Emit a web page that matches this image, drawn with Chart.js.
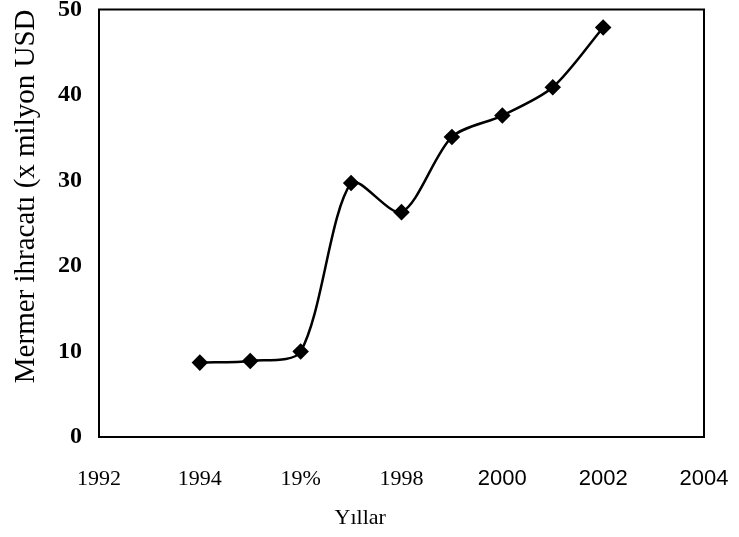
<!DOCTYPE html>
<html>
<head>
<meta charset="utf-8">
<script src="https://cdn.jsdelivr.net/npm/chart.js@4/dist/chart.umd.min.js"></script>
<style>
  html, body { margin: 0; padding: 0; background: #fff; }
  #wrap { width: 739px; height: 537px; }
</style>
</head>
<body>
<div id="wrap"><canvas id="chart" width="739" height="537"></canvas></div>
<script>
// values
const years = [1994, 1995, 1996, 1997, 1998, 1999, 2000, 2001, 2002];
const exports = [8.7, 8.9, 10.0, 29.7, 26.3, 35.1, 37.6, 40.9, 47.9];
const xTicks = [1992, 1994, 1996, 1998, 2000, 2002, 2004];
const xTickLabels = ['1992', '1994', '19%', '1998', '2000', '2002', '2004'];
const yTicks = [0, 10, 20, 30, 40, 50];

const serif = '"Liberation Serif", "Times New Roman", serif';
const sans = '"Liberation Sans", Arial, sans-serif';

// frame round the plot area
const framePlugin = {
  id: 'frame',
  afterDraw(chart) {
    const { ctx, chartArea: a } = chart;
    ctx.save();
    ctx.strokeStyle = '#000';
    ctx.lineWidth = 2;
    ctx.strokeRect(a.left, a.top, a.right - a.left, a.bottom - a.top);
    ctx.restore();
  }
};

new Chart(document.getElementById('chart').getContext('2d'), {
  type: 'line',
  data: {
    datasets: [{
      data: years.map((y, i) => ({ x: y, y: exports[i] })),
      borderColor: '#000',
      backgroundColor: '#000',
      borderWidth: 2.5,
      tension: 0.28,
      pointStyle: 'rectRot',
      pointRadius: 6.5,
      pointBackgroundColor: '#000',
      pointBorderColor: '#000',
      fill: false
    }]
  },
  options: {
    responsive: false,
    animation: false,
    layout: { padding: { top: 9.5, right: 35, left: 0, bottom: 0 } },
    plugins: {
      legend: { display: false },
      tooltip: { enabled: false }
    },
    scales: {
      x: {
        type: 'linear',
        min: 1992,
        max: 2004,
        afterBuildTicks: s => { s.ticks = xTicks.map(v => ({ value: v })); },
        afterFit: s => { s.height = 100; s.paddingLeft = 0; s.paddingRight = 0; },
        grid: { display: false, drawTicks: false },
        border: { display: false },
        ticks: {
          padding: 29,
          color: '#000',
          maxRotation: 0,
          autoSkip: false,
          font: c => ({ family: (c.tick && c.tick.value >= 2000) ? sans : serif, size: 22 }),
          callback: v => xTickLabels[xTicks.indexOf(v)]
        },
        title: {
          display: true,
          // trailing spaces shift the centred title left, as in the scan
          text: 'Yıllar' + '\u00a0'.repeat(15),
          color: '#000',
          font: { family: serif, size: 22 },
          padding: { top: 0, bottom: 6 }
        }
      },
      y: {
        min: 0,
        max: 50,
        afterBuildTicks: s => { s.ticks = yTicks.map(v => ({ value: v })); },
        afterFit: s => { s.width = 99; s.paddingTop = 0; s.paddingBottom = 0; },
        grid: { display: false, drawTicks: false },
        border: { display: false },
        ticks: {
          padding: 17,
          color: '#000',
          font: { family: serif, size: 24, weight: 'bold' }
        },
        title: {
          display: true,
          text: 'Mermer ihracatı (x milyon USD',
          align: 'end',
          color: '#000',
          font: { family: serif, size: 29 },
          padding: { top: 9, bottom: 0 }
        }
      }
    }
  },
  plugins: [framePlugin]
});
</script>
</body>
</html>
